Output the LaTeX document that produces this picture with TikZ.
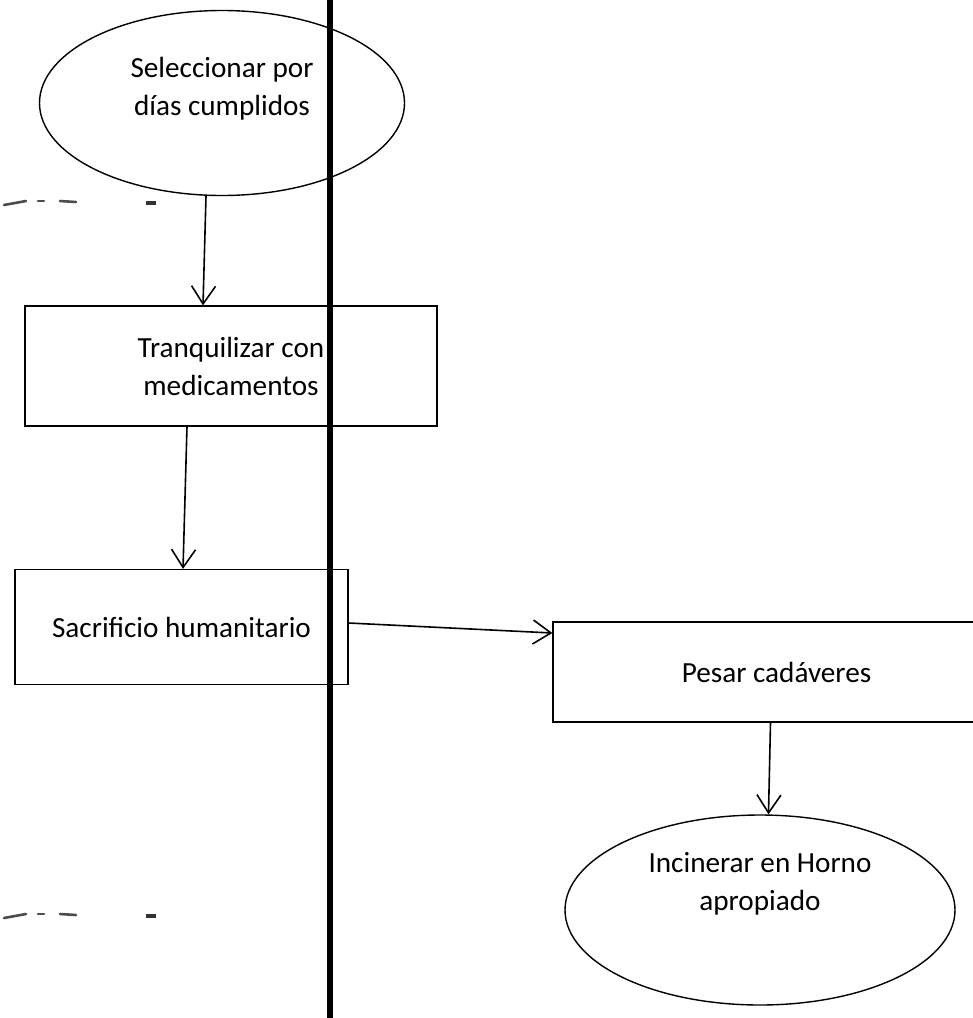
\documentclass[tikz,border=0pt]{standalone}
\usepackage{fontspec}
\setmainfont{Carlito}
\usetikzlibrary{shapes.geometric,arrows.meta}
\tikzset{
  oval/.style={draw, ellipse, line width=0.7pt},
  stepbox/.style={draw, rectangle, line width=0.6pt, align=center},
  ovaltext/.style={align=center},
  flow/.style={-{Straight Barb[length=9pt,width=12pt]}, line width=0.8pt},
  smudge/.style={line width=1.3pt, black!70, line cap=round}
}
\begin{document}
\begin{tikzpicture}[x=0.5pt, y=-0.5pt, font=\fontsize{14.6}{19}\selectfont]
  \useasboundingbox (0,0) rectangle (973,1018);
  \clip (0,0) rectangle (973,1018);
  % process steps
  \node[oval, minimum width=182.5pt, minimum height=92.5pt] (selec) at (222,103) {};
  \node[ovaltext] (selectxt) at ([yshift=7pt]selec.center) {Seleccionar por\\días cumplidos};
  \node[stepbox, minimum width=206pt, minimum height=60pt] (tranq) at (231,366) {Tranquilizar con\\medicamentos};
  \node[stepbox, minimum width=166.5pt, minimum height=57.5pt] (sacri) at (181.5,627) {Sacrificio humanitario};
  \node[stepbox, minimum width=223.5pt, minimum height=50pt] (pesar) at (776.5,672) {Pesar cadáveres};
  \node[oval, minimum width=195pt, minimum height=95pt] (incin) at (760,910) {};
  \node[ovaltext] (incintxt) at ([yshift=13pt]incin.center) {Incinerar en Horno\\apropiado};
  % connectors
  \draw[flow] ([xshift=-8pt]selec.south) -- ([xshift=-14pt]tranq.north);
  \draw[flow] ([xshift=-22pt]tranq.south) -- ([xshift=-24pt]tranq.south |- sacri.north);
  \draw[flow] ([yshift=2pt]sacri.east) -- ([yshift=-3pt]sacri.east -| pesar.west);
  \draw[flow] ([xshift=-3pt]pesar.south) -- ([xshift=-4pt]pesar.south |- incin.north);
  % divider line
  \coordinate (divtop) at (330,0);
  \coordinate (divbot) at (330,1018);
  \draw[line width=2.6pt] (divtop) -- (divbot);
  % scan marks on the left
  \foreach \y in {201,914} {
    \draw[smudge] (4,\y+4) -- (26,\y);
    \draw[smudge] (38,\y) -- (44,\y);
    \draw[smudge] (60,\y) -- (76,\y+1);
    \draw[line width=2pt, black!80] (146,\y+2) -- (156,\y+2);
  }
\end{tikzpicture}
\end{document}
